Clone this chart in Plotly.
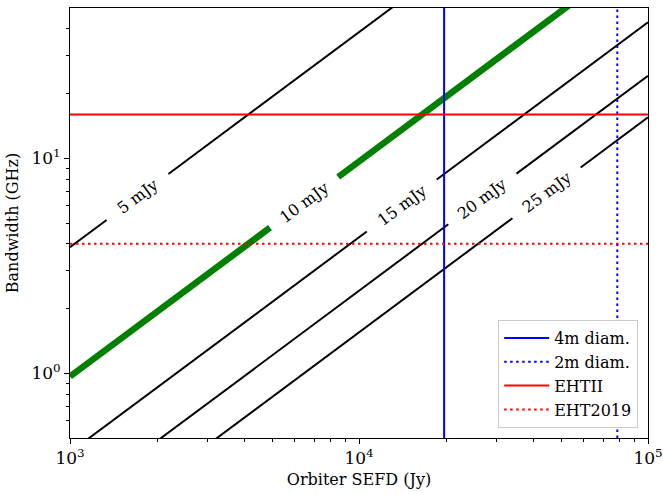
import math
import plotly.graph_objects as go

# ---------------- data ----------------
level_labels = ["5 mJy", "10 mJy", "15 mJy", "20 mJy", "25 mJy"]
level_colors = ["black", "green", "black", "black", "black"]
sefd_span = [1e3, 1e5]                       # Jy, start/end of each sensitivity line
bw_at_span_start = [3.86, 0.966, 0.429, 0.242, 0.155]   # GHz at SEFD = 1e3 Jy
bw_at_span_end = [386.0, 96.6, 42.9, 24.2, 15.5]        # GHz at SEFD = 1e5 Jy

dish_names = ["4m diam.", "2m diam."]
dish_sefd = [19700, 78300]                   # Jy
array_names = ["EHTII", "EHT2019"]
array_bw = [16.0, 4.0]                       # GHz

x_range = [1e3, 1e5]
y_range = [0.5, 50]
x_tickvals = [1e3, 1e4, 1e5]
x_ticktext = ["10<sup>3</sup>", "10<sup>4</sup>", "10<sup>5</sup>"]
y_tickvals = [1, 10]
y_ticktext = ["10<sup>0</sup>", "10<sup>1</sup>"]
x_minor = [m * 10 ** e for e in (3, 4) for m in range(2, 10)]
y_minor = [0.6, 0.7, 0.8, 0.9] + [m for m in range(2, 10)] + [20, 30, 40]

# ---------------- style ----------------
W, H = 663, 494
ML, MR, MT, MB = 70, 15, 8, 56
FONT = "DejaVu Serif"
FS = 17
LABEL_LOGX = [3.2336, 3.810, 4.148, 4.427, 4.649]   # label centres (log10 SEFD)
GAP_HALF = [0.107, 0.118, 0.121, 0.118, 0.118]      # half gap in log10 SEFD
LEVEL_WIDTH = [2, 6.5, 2, 2, 2]

lx0, lx1 = math.log10(sefd_span[0]), math.log10(sefd_span[1])


def log_bw(i, lx):
    a = math.log10(bw_at_span_start[i])
    b = math.log10(bw_at_span_end[i])
    return a + (b - a) * (lx - lx0) / (lx1 - lx0)


px_per_dec_x = (W - ML - MR) / (math.log10(x_range[1]) - math.log10(x_range[0]))
px_per_dec_y = (H - MT - MB) / (math.log10(y_range[1]) - math.log10(y_range[0]))

fig = go.Figure()
annotations = []
for i, lab in enumerate(level_labels):
    c, g = LABEL_LOGX[i], GAP_HALF[i]
    lxs = [lx0, c - g, None, c + g, lx1]
    xs = [None if v is None else 10 ** v for v in lxs]
    ys = [None if v is None else 10 ** log_bw(i, v) for v in lxs]
    fig.add_trace(go.Scatter(x=xs, y=ys, mode="lines", showlegend=False,
                             line=dict(color=level_colors[i], width=LEVEL_WIDTH[i]),
                             hoverinfo="skip", connectgaps=False))
    slope = (math.log10(bw_at_span_end[i]) - math.log10(bw_at_span_start[i])) / (lx1 - lx0)
    ang = math.degrees(math.atan(slope * px_per_dec_y / px_per_dec_x))
    annotations.append(dict(x=c, y=log_bw(i, c), xref="x", yref="y", text=lab,
                            showarrow=False, textangle=-ang, xanchor="center",
                            yanchor="middle", font=dict(family=FONT, size=FS - 1, color="black")))

dash_dot = "2.5px,3.5px"
for name, s, dash in zip(dish_names, dish_sefd, ["solid", dash_dot]):
    fig.add_trace(go.Scatter(x=[s, s], y=y_range, mode="lines", name=name,
                             legendgroup=name,
                             line=dict(color="#0000ff", width=2, dash=dash)))
for name, b, dash in zip(array_names, array_bw, ["solid", dash_dot]):
    fig.add_trace(go.Scatter(x=x_range, y=[b, b], mode="lines", name=name,
                             legendgroup=name,
                             line=dict(color="#ff0000", width=2, dash=dash)))

axis_common = dict(type="log", showgrid=False, zeroline=False, showline=True,
                   linecolor="black", linewidth=1, mirror=True, ticks="outside",
                   ticklen=5, tickwidth=1, tickcolor="black", automargin=False,
                   tickfont=dict(family=FONT, size=FS, color="black"))
fig.update_xaxes(**axis_common, range=[math.log10(v) for v in x_range],
                 tickmode="array", tickvals=x_tickvals, ticktext=x_ticktext,
                 minor=dict(tickmode="array", tickvals=x_minor, ticks="outside",
                            ticklen=3, tickwidth=1, tickcolor="black", showgrid=False),
                 title=dict(text="Orbiter SEFD (Jy)", font=dict(family=FONT, size=FS - 1, color="black"),
                            standoff=6))
fig.update_yaxes(**axis_common, range=[math.log10(v) for v in y_range],
                 tickmode="array", tickvals=y_tickvals, ticktext=y_ticktext,
                 minor=dict(tickmode="array", tickvals=y_minor, ticks="outside",
                            ticklen=3, tickwidth=1, tickcolor="black", showgrid=False),
                 title=dict(text="Bandwidth (GHz)", font=dict(family=FONT, size=FS - 1, color="black"),
                            standoff=8))

fig.update_layout(
    width=W, height=H, autosize=False,
    margin=dict(l=ML, r=MR, t=MT, b=MB, pad=0),
    paper_bgcolor="white", plot_bgcolor="white",
    font=dict(family=FONT, size=FS, color="black"),
    annotations=annotations,
    legend=dict(x=0.983, y=0.023, xanchor="right", yanchor="bottom",
                bgcolor="white", bordercolor="#cccccc", borderwidth=1,
                font=dict(family=FONT, size=FS - 1, color="black"),
                itemwidth=45, tracegroupgap=4, traceorder="normal"),
)

fig.write_html("out.html")
